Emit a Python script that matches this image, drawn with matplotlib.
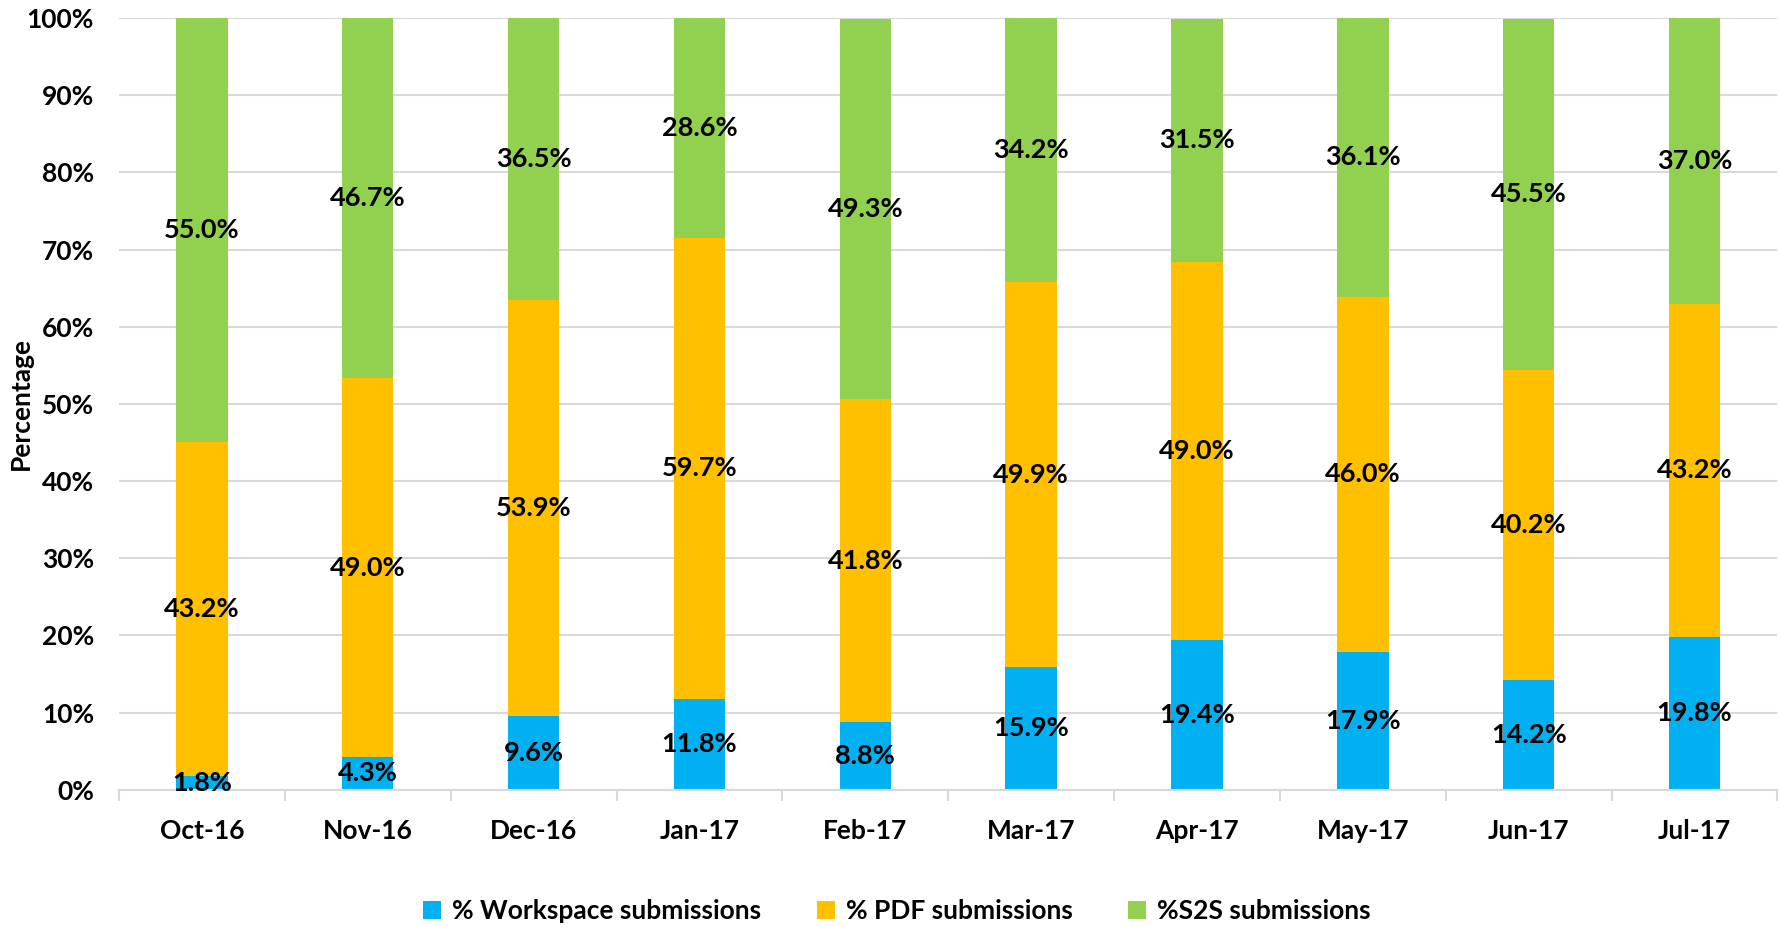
import numpy as np
import matplotlib.pyplot as plt

# data
months = ["Oct-16", "Nov-16", "Dec-16", "Jan-17", "Feb-17",
          "Mar-17", "Apr-17", "May-17", "Jun-17", "Jul-17"]
workspace = [1.8, 4.3, 9.6, 11.8, 8.8, 15.9, 19.4, 17.9, 14.2, 19.8]
pdf = [43.2, 49.0, 53.9, 59.7, 41.8, 49.9, 49.0, 46.0, 40.2, 43.2]
s2s = [55.0, 46.7, 36.5, 28.6, 49.3, 34.2, 31.5, 36.1, 45.5, 37.0]

series_names = ["% Workspace submissions", "% PDF submissions", "%S2S submissions"]
colors = ["#00B0F0", "#FFC000", "#92D050"]

plt.rcParams["font.family"] = ["Lato", "DejaVu Sans"]
plt.rcParams["font.weight"] = "bold"

fig = plt.figure(figsize=(17.81, 9.27), dpi=100)
ax = fig.add_axes([0.0668, 0.148, 0.9312, 0.8326])

x = np.arange(len(months))
width = 0.31
bottom = np.zeros(len(months))
for vals, name, col in zip([workspace, pdf, s2s], series_names, colors):
    vals = np.array(vals)
    ax.bar(x, vals, width, bottom=bottom, color=col, label=name, zorder=2)
    for xi, b, v in zip(x, bottom, vals):
        ax.text(xi, b + v / 2, f"{v:.1f}%", ha="center", va="center",
                fontsize=19.5, fontweight="bold", color="black", zorder=3)
    bottom = bottom + vals

ax.set_xlim(-0.5, len(months) - 0.5)
ax.set_ylim(0, 100)
ax.set_yticks(np.arange(0, 101, 10))
ax.set_yticklabels([f"{v}%" for v in range(0, 101, 10)], fontsize=19, fontweight="bold")
ax.yaxis.grid(True, color="#D9D9D9", linewidth=1.5, zorder=0)
ax.tick_params(axis="y", length=0, pad=18)

ax.set_xticks(x)
ax.set_xticklabels(months, fontsize=19, fontweight="bold")
ax.set_xticks(np.arange(-0.5, len(months)), minor=True)
ax.tick_params(axis="x", which="major", length=0, pad=21)
ax.tick_params(axis="x", which="minor", length=8, width=1.5, color="#D9D9D9")

for side in ["top", "right", "left"]:
    ax.spines[side].set_visible(False)
ax.spines["bottom"].set_color("#D9D9D9")
ax.spines["bottom"].set_linewidth(1.5)

ax.set_ylabel("Percentage", fontsize=19, fontweight="bold")
ax.yaxis.set_label_coords(-0.052, 0.5)

ax.legend(loc="center", bbox_to_anchor=(0.469, -0.157), ncol=3, frameon=False,
          fontsize=19, handlelength=0.7, handleheight=0.7, columnspacing=2.1,
          handletextpad=0.4)

fig.savefig("out.png", dpi=100)
